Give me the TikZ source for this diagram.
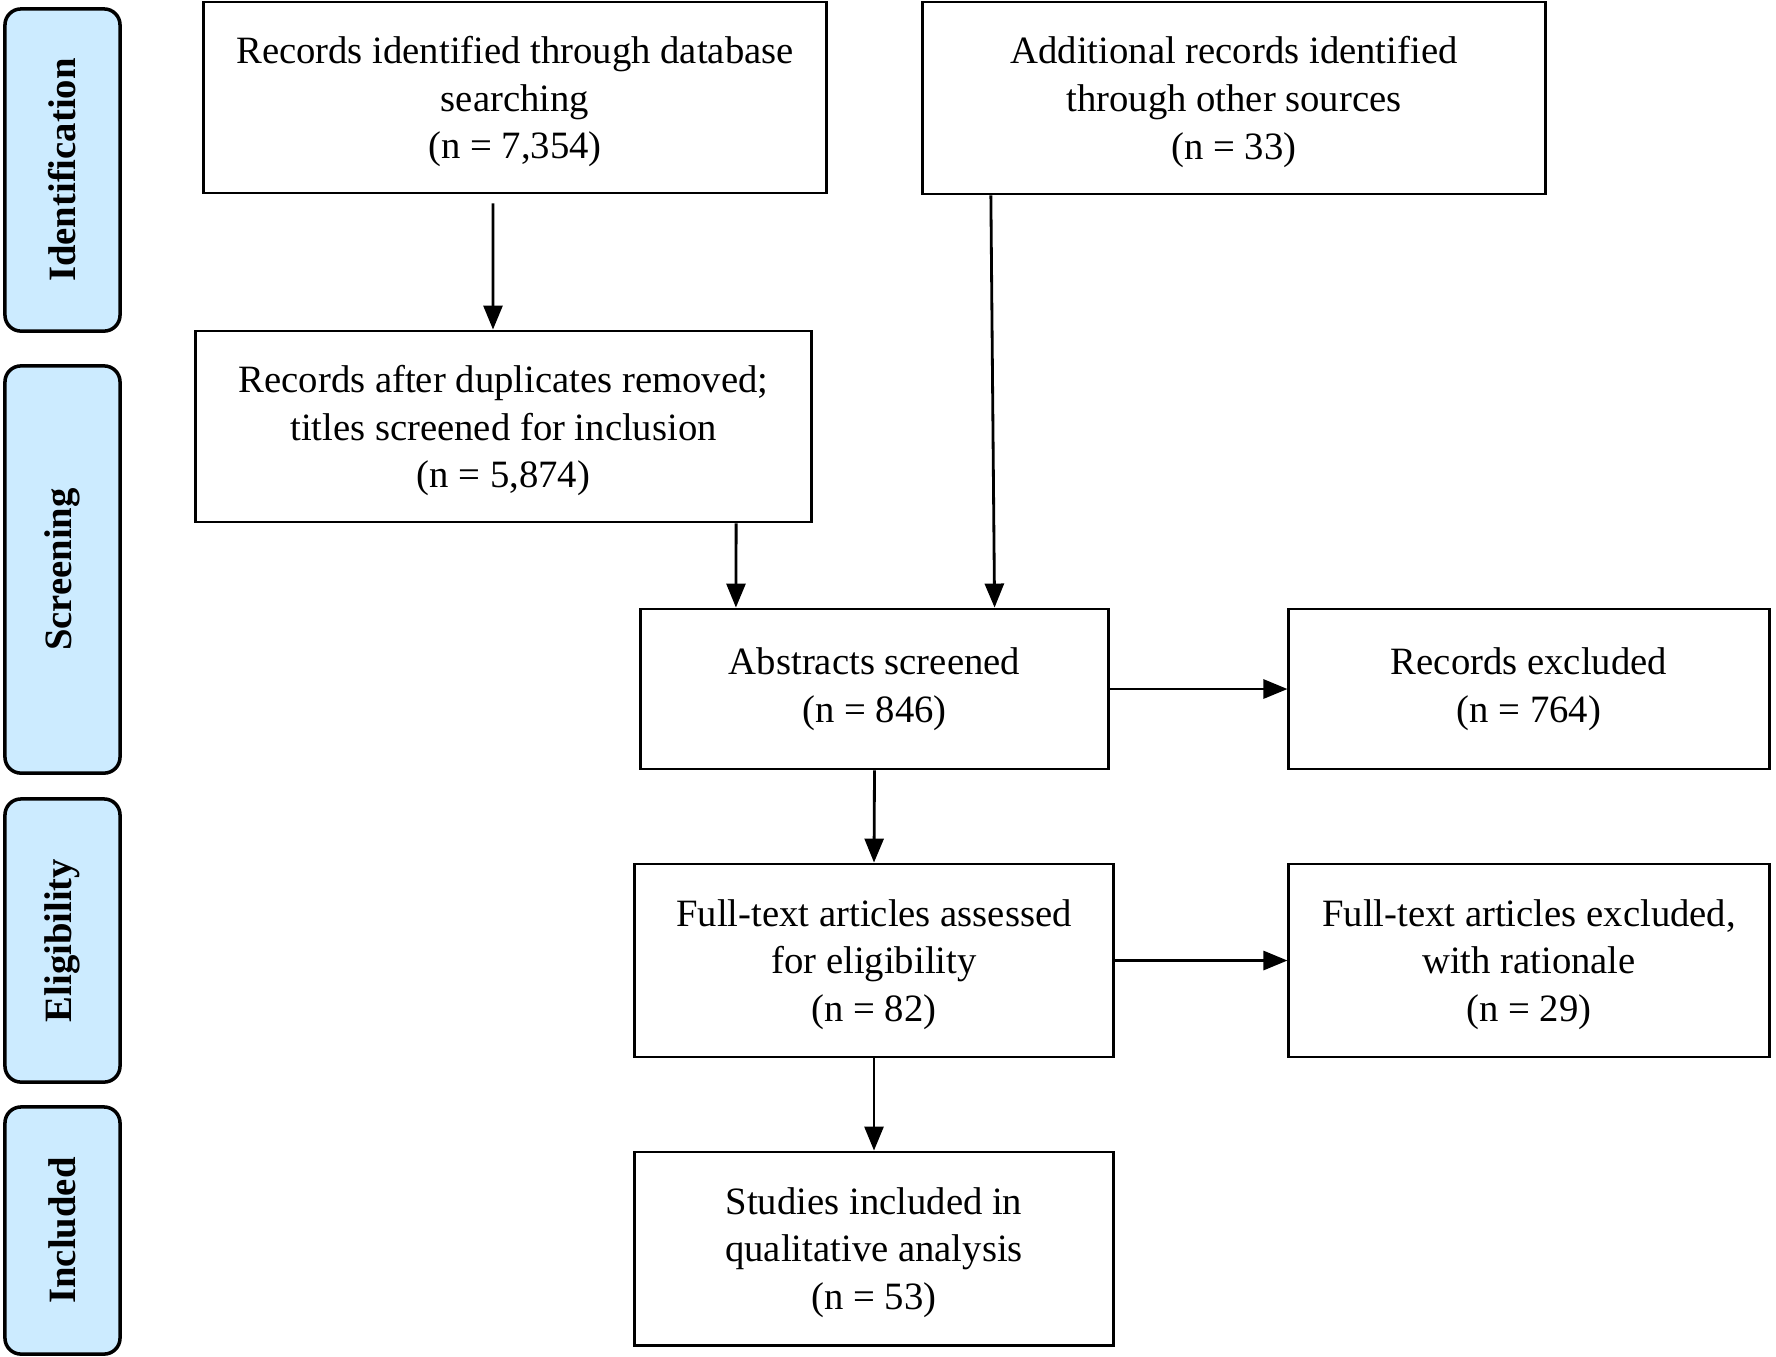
\documentclass[tikz,border=0pt]{standalone}
\usepackage{fontspec}
\setmainfont{Liberation Serif}
\usetikzlibrary{arrows.meta}
\definecolor{stagefill}{RGB}{204,235,255}
\tikzset{
  flowbox/.style = {draw,line width=0.8pt,align=center,inner sep=2pt,
    font=\fontsize{11pt}{13.6pt}\selectfont},
  threeline/.style = {flowbox,text depth=0pt},
  stagebox/.style = {draw,line width=1pt,fill=stagefill,rounded corners=0.16cm,rotate=90,
    minimum height=1.15cm,font=\fontsize{11pt}{13.6pt}\selectfont\bfseries},
  flowarrow/.style = {draw,line width=0.8pt,-{Triangle[width=0.19cm,length=0.24cm]}}
}

\begin{document}
\begin{tikzpicture}[x=0.01cm,y=-0.01cm]

	\useasboundingbox (0,0) rectangle (1776,1356);

	%phase labels down the left side
	\node[stagebox,minimum width=3.22cm] (identif) at (62.5,170) {Identification};
	\node[stagebox,minimum width=4.07cm] (screen) at (62.5,569.5) {Screening};
	\node[stagebox,minimum width=2.83cm] (elig) at (62.5,940.5) {Eligibility};
	\node[stagebox,minimum width=2.47cm] (inclu) at (62.5,1230.5) {Included};

	%identification row
	\node[threeline,minimum width=6.22cm,minimum height=1.91cm] (search) at (515,97.5) {Records identified through database\\searching\\(n = 7,354)};
	\node[threeline,minimum width=6.22cm,minimum height=1.92cm] (other) at (1234,98) {Additional records identified\\through other sources\\(n = 33)};

	%screening
	\node[threeline,minimum width=6.15cm,minimum height=1.91cm] (dedup) at (503.5,426.5) {Records after duplicates removed;\\titles screened for inclusion\\(n = 5,874)};
	\node[flowbox,minimum width=4.67cm,minimum height=1.60cm] (abstr) at (874.5,689) {Abstracts screened\\(n = 846)};
	\node[flowbox,minimum width=4.80cm,minimum height=1.60cm] (recexcl) at (1529,689) {Records excluded\\(n = 764)};

	%eligibility
	\node[threeline,minimum width=4.78cm,minimum height=1.93cm] (fulltext) at (874,960.5) {Full-text articles assessed\\for eligibility\\(n = 82)};
	\node[threeline,minimum width=4.80cm,minimum height=1.93cm] (ftexcl) at (1529,960.5) {Full-text articles excluded,\\with rationale\\(n = 29)};

	%included
	\node[threeline,minimum width=4.78cm,minimum height=1.93cm] (studies) at (874,1248.5) {Studies included in\\qualitative analysis\\(n = 53)};

	%connectors
	\draw[flowarrow] ([xshift=-0.22cm,yshift=-0.09cm]search.south) -- ([xshift=-0.105cm]dedup.north); %database --> duplicates removed
	\draw[flowarrow] ([xshift=-2.43cm]other.south) -- ([xshift=1.2cm]abstr.north); %other sources --> abstracts
	\draw[flowarrow] ([xshift=2.325cm]dedup.south) -- ([xshift=-1.385cm]abstr.north); %titles --> abstracts
	\draw[flowarrow] (abstr.east) -- (recexcl.west);
	\draw[flowarrow] (abstr.south) -- (fulltext.north);
	\draw[flowarrow] (fulltext.east) -- (ftexcl.west);
	\draw[flowarrow] (fulltext.south) -- (studies.north);

\end{tikzpicture}
\end{document}
